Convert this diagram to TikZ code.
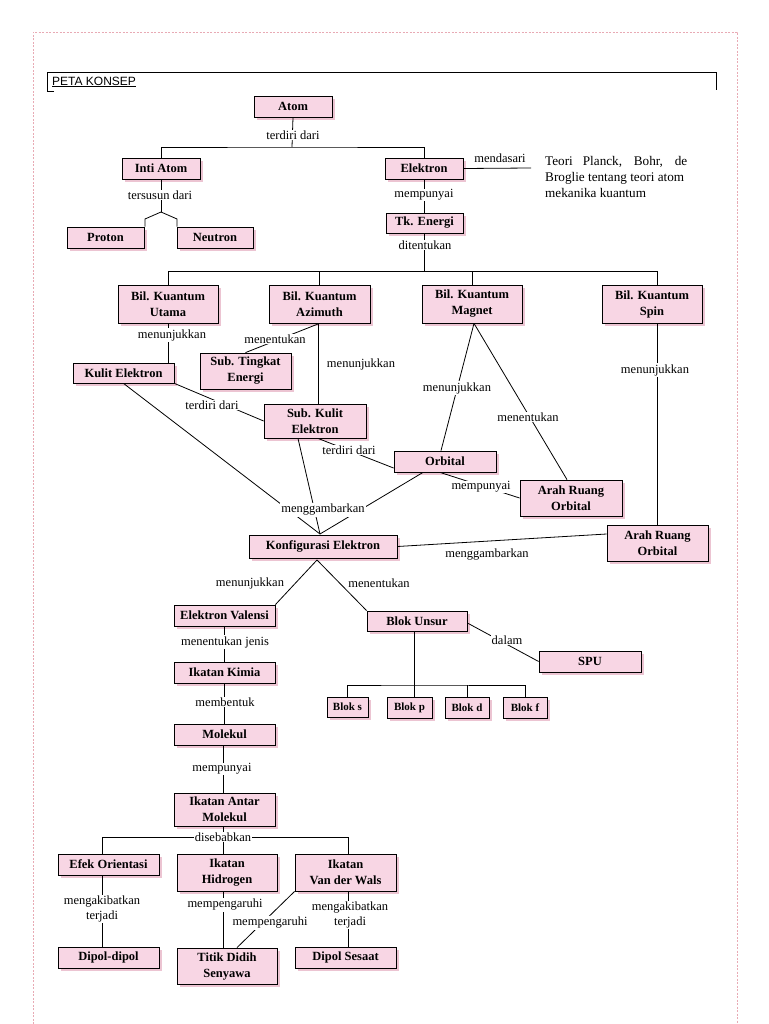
\documentclass[tikz,border=0pt]{standalone}
\usepackage{fontspec}
\setmainfont{Liberation Serif}
\newfontfamily\arialf{Liberation Sans}
\usetikzlibrary{shadows,calc}
\definecolor{boxpink}{RGB}{248,214,228}
\definecolor{dashpink}{RGB}{232,170,180}
\definecolor{glowpink}{RGB}{236,196,210}
\newcommand{\bx}[6]{\node[box,minimum width={#4-#2},minimum height={#5-#3}] (#1) at ({(#2+#4)/2},{(#3+#5)/2}) {#6};}
\newcommand{\lb}[4]{\node[lbl] (#1) at (#2,#3) {#4};}
\newcommand{\lbn}[4]{\node[lbln] (#1) at (#2,#3) {#4};}
\begin{document}
\begin{tikzpicture}[x=1pt,y=-1pt,
  box/.style={draw=black,line width=0.8pt,fill=boxpink,align=center,inner sep=0pt,
    font=\bfseries\fontsize{12.5}{16}\selectfont,
    general shadow={shadow xshift=3pt,shadow yshift=-3pt,fill=glowpink},
    general shadow={shadow xshift=1.4pt,shadow yshift=-1.4pt,fill=black!75}},
  smallbox/.style={box,font=\bfseries\fontsize{11}{13}\selectfont},
  lbl/.style={fill=white,inner sep=1pt,align=center,font=\fontsize{12.5}{15}\selectfont},
  lbln/.style={inner sep=1pt,align=center,font=\fontsize{12.5}{15}\selectfont},
  link/.style={line width=0.8pt,black}]
\useasboundingbox (0,0) rectangle (768,1024);
% page border
\draw[dashpink,line width=0.6pt,dash pattern=on 2pt off 1.5pt] (33,1024) -- (33,32) -- (737,32) -- (737,1024);
% title frame
\draw[line width=0.8pt] (54,91) -- (47,91) -- (47,72) -- (716,72) -- (716,90);
\node[font=\arialf\fontsize{12}{14}\selectfont,anchor=west,inner sep=0pt] (peta) at (52,82) {\underline{PETA KONSEP}};

% boxes
\bx{atom}{254}{96}{332}{117}{Atom}
\bx{inti}{122}{158}{200}{179}{Inti Atom}
\bx{elektron}{385}{158}{463}{179}{Elektron}
\bx{proton}{67}{227}{144}{248}{Proton}
\bx{neutron}{177}{227}{253}{248}{Neutron}
\bx{tk}{386}{213}{463}{233}{Tk. Energi}
\bx{utama}{118}{285}{218}{323}{Bil. Kuantum\\Utama}
\bx{azimuth}{269}{285}{370}{323}{Bil. Kuantum\\Azimuth}
\bx{magnet}{422}{285}{522}{323}{Bil. Kuantum\\Magnet}
\bx{spin}{602}{285}{702}{323}{Bil. Kuantum\\Spin}
\bx{kulit}{73}{363}{174}{383}{Kulit Elektron}
\bx{subtingkat}{200}{353}{291}{389}{Sub. Tingkat\\Energi}
\bx{subkulit}{264}{404}{366}{438}{Sub. Kulit\\Elektron}
\bx{orbital}{394}{451}{496}{472}{Orbital}
\bx{arahA}{520}{480}{622}{516}{Arah Ruang\\Orbital}
\bx{arahB}{607}{525}{708}{561}{Arah Ruang\\Orbital}
\bx{konf}{249}{535}{397}{558}{Konfigurasi Elektron}
\bx{evalensi}{174}{605}{275}{626}{Elektron Valensi}
\bx{blokunsur}{367}{611}{467}{631}{Blok Unsur}
\bx{spu}{539}{651}{641}{672}{SPU}
\node[smallbox,minimum width=41,minimum height=20] (bloks) at (347.5,707) {Blok s};
\node[smallbox,minimum width=45,minimum height=21] (blokp) at (409.5,707.5) {Blok p};
\node[smallbox,minimum width=44,minimum height=21] (blokd) at (467,707.5) {Blok d};
\node[smallbox,minimum width=44,minimum height=21] (blokf) at (525,707.5) {Blok f};
\bx{kimia}{174}{662}{275}{683}{Ikatan Kimia}
\bx{molekul}{174}{724}{275}{745}{Molekul}
\bx{antar}{174}{793}{275}{826}{Ikatan Antar\\Molekul}
\bx{efek}{58}{854}{159}{875}{Efek Orientasi}
\bx{hidrogen}{177}{854}{277}{891}{Ikatan\\Hidrogen}
\bx{vdw}{295}{854}{396}{891}{Ikatan\\Van der Wals}
\bx{dipol}{58}{947}{159}{968}{Dipol-dipol}
\bx{titik}{177}{948}{277}{984}{Titik Didih\\Senyawa}
\bx{sesaat}{295}{947}{396}{968}{Dipol Sesaat}

% junction points
\coordinate (ta) at (292,147);
\coordinate (tb) at (161,212);
\coordinate (tc) at (425,271);
\coordinate (kv) at (320,534);
\coordinate (kb) at (317,560);
\coordinate (mdend) at (531,168);
\coordinate (bj) at (414,685);
\coordinate (dj) at (223,837);

% connectors
\draw[link] (atom.south) -- (ta);
\draw[link] (inti.north) |- (ta) -| (elektron.north);
\draw[link] (inti.south) -- (tb);
\draw[link] (tb) -- (145,219) -- (145,0 |- proton.north);
\draw[link] (tb) -- (177,219) -- (177,0 |- neutron.north);
\draw[link] (elektron.east) -- (mdend);
\draw[link] (elektron.south) -- (elektron.south |- tk.north);
\draw[link] (tk.south) -- (tk.south |- tc);
\draw[link] (utama.north) |- (657,271) -- (657,0 |- spin.north);
\draw[link] (azimuth.north) -- (azimuth.north |- tc);
\draw[link] (magnet.north) -- (magnet.north |- tc);
\draw[link] (utama.south) -- (utama.south |- kulit.north);
\draw[link] (azimuth.south) -- (subtingkat.north);
\draw[link] (318,0 |- azimuth.south) -- (318,0 |- subkulit.north);
\draw[link] (kulit.south east) -- (subkulit.west);
\draw[link] (kulit.south) -- (kv);
\draw[link] (298,0 |- subkulit.south) -- (kv);
\draw[link] (423,0 |- orbital.south) -- (kv);
\draw[link] (318,0 |- subkulit.south) -- ($(orbital.west)!0.6!(orbital.south west)$);
\draw[link] (474,0 |- magnet.south) -- (441,0 |- orbital.north);
\draw[link] (474,0 |- magnet.south) -- (567,0 |- arahA.north);
\draw[link] (440,0 |- orbital.south) -- (arahA.west);
\draw[link] (657,0 |- spin.south) -- (657,0 |- arahB.north);
\draw[link] ($(arahB.west)+(0,-9)$) -- (konf.east);
\draw[link] (kb) -- (evalensi.north east);
\draw[link] (kb) -- (blokunsur.north west);
\draw[link] ($(blokunsur.east)+(0,2)$) -- (spu.west);
\draw[link] (414,0 |- blokunsur.south) -- (414,0 |- blokp.north);
\draw[link] (bloks.north) |- (bj) -| (blokf.north);
\draw[link] (blokd.north) -- (blokd.north |- bj);
\draw[link] (224,0 |- evalensi.south) -- (224,0 |- kimia.north);
\draw[link] (224,0 |- kimia.south) -- (224,0 |- molekul.north);
\draw[link] (223,0 |- molekul.south) -- (223,0 |- antar.north);
\draw[link] (223,0 |- antar.south) -- (dj);
\draw[link] (102,0 |- efek.north) |- (dj) -| (348,0 |- vdw.north);
\draw[link] (dj) -- (223,0 |- hidrogen.north);
\draw[link] (102,0 |- efek.south) -- (102,0 |- dipol.north);
\draw[link] (223,0 |- hidrogen.south) -- (223,0 |- titik.north);
\draw[link] (vdw.south west) -- (237,0 |- titik.north);
\draw[link] (348,0 |- vdw.south) -- (348,0 |- sesaat.north);

% labels
\lb{l1}{293}{135}{terdiri dari}
\lb{l2}{160}{195}{tersusun dari}
\lbn{l3}{500}{158}{mendasari}
\node[anchor=north west,inner sep=0pt,align=left,font=\fontsize{13.2}{16}\selectfont] (teori) at (545,156)
  {\makebox[142pt][s]{Teori Planck, Bohr, de}\\Broglie tentang teori atom\\mekanika kuantum};
\lb{l4}{424}{195}{mempunyai}
\lb{l5}{425}{245}{ditentukan}
\lb{l6}{172}{335}{menunjukkan}
\lb{l7}{275}{339}{menentukan}
\lbn{l8}{361}{364}{menunjukkan}
\lb{l9}{212}{405}{terdiri dari}
\lb{l10}{349}{450}{terdiri dari}
\lb{l11}{457}{388}{menunjukkan}
\lb{l12}{528}{417}{menentukan}
\lb{l13}{481}{487}{mempunyai}
\lb{l14}{655}{370}{menunjukkan}
\lb{l15}{323}{510}{menggambarkan}
\lbn{l16}{487}{555}{menggambarkan}
\lbn{l17}{250}{583}{menunjukkan}
\lbn{l18}{379}{583}{menentukan}
\lb{l19}{225}{642}{menentukan jenis}
\lb{l20}{507}{640}{dalam}
\lb{l21}{225}{702}{membentuk}
\lb{l22}{222}{769}{mempunyai}
\lb{l23}{223}{837}{disebabkan}
\lb{l24}{102}{909}{mengakibatkan\\terjadi}
\lb{l25}{225}{905}{mempengaruhi}
\lb{l26}{270}{923}{mempengaruhi}
\lb{l27}{350}{915}{mengakibatkan\\terjadi}
\end{tikzpicture}
\end{document}
